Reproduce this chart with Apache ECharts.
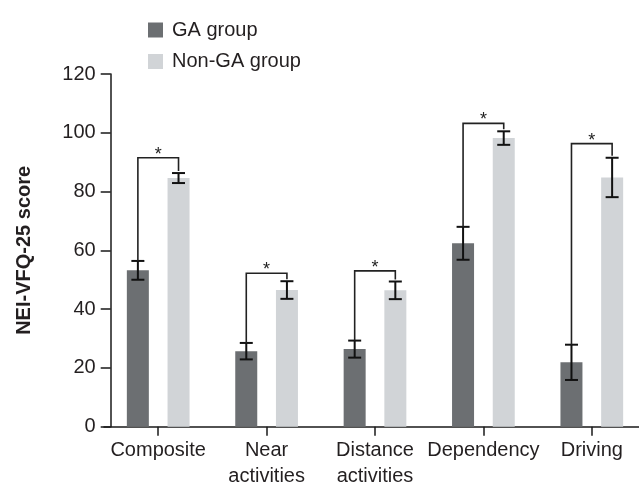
<!DOCTYPE html>
<html>
<head>
<meta charset="utf-8">
<script src="https://cdn.jsdelivr.net/npm/echarts@6/dist/echarts.min.js"></script>
<style>
html,body{margin:0;padding:0;background:#fff;}
#chart{width:639px;height:483px;}
</style>
</head>
<body>
<div id="chart"></div>
<script>
var categories = ['Composite', 'Near\nactivities', 'Distance\nactivities', 'Dependency', 'Driving'];
var seriesNames = ['GA group', 'Non-GA group'];
var gaMean = [53.2, 25.7, 26.4, 62.4, 21.9];
var gaSD = [3.2, 2.8, 2.9, 5.6, 6.0];
var nonGaMean = [84.6, 46.5, 46.4, 98.2, 84.8];
var nonGaSD = [1.7, 3.0, 3.0, 2.3, 6.7];
var bracketY = [91.5, 52.2, 53.0, 103.2, 96.3];
var sigMarks = ['*', '*', '*', '*', '*'];
var yTicks = [0, 20, 40, 60, 80, 100, 120];

var FONT = 'Liberation Sans, Arial, Helvetica, sans-serif';
var GA_COLOR = '#6c6f72';
var NON_COLOR = '#d1d4d7';
var INK = '#1a1a1a';
var TXT = '#231f20';
var OFFSET_FRAC = 0.1875; // bar centre offset as fraction of band width

var errData = [];
categories.forEach(function (c, i) {
  errData.push([i, gaMean[i], gaSD[i], -1]);
  errData.push([i, nonGaMean[i], nonGaSD[i], 1]);
});
var brData = categories.map(function (c, i) {
  return [i, bracketY[i], gaMean[i] + gaSD[i], nonGaMean[i] + nonGaSD[i], sigMarks[i]];
});

var chart = echarts.init(document.getElementById('chart'), null, {renderer: 'canvas'});
chart.setOption({
  backgroundColor: '#fff',
  animation: false,
  textStyle: {fontFamily: FONT},
  legend: {
    orient: 'vertical',
    left: 143,
    top: 15,
    itemWidth: 15,
    itemHeight: 15,
    itemGap: 11.5,
    icon: 'rect',
    textStyle: {fontFamily: FONT, fontSize: 20, color: TXT, padding: [0, 0, 0, 4]},
    data: seriesNames
  },
  grid: {left: 104, top: 74, width: 542, height: 352.7, containLabel: false, outerBoundsMode: 'none'},
  xAxis: {
    type: 'category',
    data: categories,
    axisLine: {show: true, lineStyle: {color: INK, width: 1.5}},
    axisTick: {show: true, alignWithLabel: true, length: 9, lineStyle: {color: INK, width: 1.5}},
    axisLabel: {fontFamily: FONT, fontSize: 20, color: TXT, margin: 11, lineHeight: 26, interval: 0}
  },
  yAxis: {
    type: 'value',
    min: yTicks[0],
    max: yTicks[yTicks.length - 1],
    interval: 20,
    offset: -6.7,
    name: 'NEI-VFQ-25 score',
    nameLocation: 'middle',
    nameGap: 76,
    nameTextStyle: {fontFamily: FONT, fontSize: 20, fontWeight: 'bold', color: TXT},
    axisLine: {show: true, lineStyle: {color: INK, width: 1.5}},
    axisTick: {show: true, length: 10, lineStyle: {color: INK, width: 1.5}},
    axisLabel: {fontFamily: FONT, fontSize: 20, color: TXT, margin: 15},
    splitLine: {show: false}
  },
  series: [
    {
      name: seriesNames[0], type: 'bar', data: gaMean, barWidth: 22, barGap: '85%',
      itemStyle: {color: GA_COLOR}
    },
    {
      name: seriesNames[1], type: 'bar', data: nonGaMean, barWidth: 22,
      itemStyle: {color: NON_COLOR}
    },
    {
      type: 'custom',
      name: 'err',
      z: 5,
      data: errData,
      encode: {x: 0, y: 1},
      renderItem: function (params, api) {
        var i = api.value(0), m = api.value(1), sd = api.value(2), side = api.value(3);
        var bw = api.size([1, 0])[0];
        var c = api.coord([i, m]);
        var x = c[0] + side * bw * OFFSET_FRAC;
        var top = api.coord([i, m + sd])[1];
        var bot = api.coord([i, m - sd])[1];
        var hw = 6.5;
        var st = {stroke: '#111', lineWidth: 2, fill: null};
        return {
          type: 'group',
          children: [
            {type: 'line', shape: {x1: x, y1: top, x2: x, y2: bot}, style: st},
            {type: 'line', shape: {x1: x - hw, y1: top, x2: x + hw, y2: top}, style: st},
            {type: 'line', shape: {x1: x - hw, y1: bot, x2: x + hw, y2: bot}, style: st}
          ]
        };
      }
    },
    {
      type: 'custom',
      name: 'bracket',
      z: 6,
      data: brData,
      encode: {x: 0, y: 1},
      renderItem: function (params, api) {
        var i = api.value(0), by = api.value(1), l = api.value(2), r = api.value(3);
        var mark = brData[params.dataIndex][4];
        var bw = api.size([1, 0])[0];
        var c = api.coord([i, by]);
        var xl = c[0] - bw * OFFSET_FRAC;
        var xr = c[0] + bw * OFFSET_FRAC;
        var yb = c[1];
        var yl = api.coord([i, l])[1];
        var yr = api.coord([i, r])[1] - 2;
        return {
          type: 'group',
          children: [
            {type: 'polyline', shape: {points: [[xl, yl], [xl, yb], [xr, yb], [xr, yr]]},
              style: {stroke: '#222', lineWidth: 1.6, fill: null}},
            {type: 'text', x: c[0], y: yb - 3,
              style: {text: mark, fontFamily: FONT, fontSize: 18, fill: '#222', align: 'center', verticalAlign: 'middle'}}
          ]
        };
      }
    }
  ]
});
</script>
</body>
</html>
